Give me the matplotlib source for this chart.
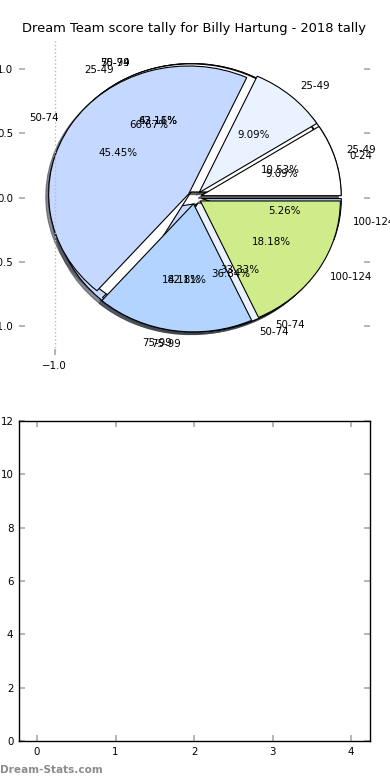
import numpy as np
import matplotlib
matplotlib.use("Agg")
import matplotlib.pyplot as plt

# score ranges and game counts, one pie per set (all drawn on the same axes)
labels_b = ['25-49', '50-74', '75-99', '100-124']
counts_b = [2, 8, 8, 1]
labels_d = ['75-99', '50-74']
counts_d = [12, 7]
labels_c = ['25-49', '50-74']
counts_c = [2, 1]
labels_a = ['0-24', '25-49', '50-74', '75-99', '100-124']
counts_a = [1, 1, 5, 2, 2]

slice_colors = ['#ffffff', '#eaf2ff', '#c5d8ff', '#b3d4ff', '#d0eb8a']
bar_ticks = [0, 1, 2, 3, 4]

plt.rcParams['font.family'] = ['DejaVu Sans']
fs = 7.4
tick_grey = '#b0b0b0'

fig = plt.figure(figsize=(3.9, 7.8), dpi=100)
ax1 = fig.add_axes([19 / 390, 1 - 355 / 780, 351 / 390, 315 / 780])
ax2 = fig.add_axes([19 / 390, 39 / 780, 351 / 390, 320 / 780])

for labels, counts in [(labels_b, counts_b), (labels_d, counts_d),
                       (labels_c, counts_c), (labels_a, counts_a)]:
    ax1.pie(counts, labels=labels, colors=slice_colors[:len(counts)],
            explode=[0.05] * len(counts), autopct='%1.2f%%',
            shadow={'ox': -0.015, 'oy': -0.015, 'alpha': 0.6},
            wedgeprops={'edgecolor': 'black', 'linewidth': 0.8},
            textprops={'fontsize': fs})

ax1.set_aspect('auto')
ax1.set_frame_on(False)
ax1.set_xlim(-1.254, 1.254)
ax1.set_ylim(-1.23, 1.23)
ax1.set_yticks([-1.0, -0.5, 0.0, 0.5, 1.0])
ax1.set_xticks([-1.0])
ax1.set_xticklabels(['\u22121.0'])
ax1.xaxis.grid(True, linestyle=':', color='#bbbbbb', linewidth=1)
ax1.tick_params(axis='both', direction='in', length=4, width=1.3, color=tick_grey,
                labelsize=fs, right=True, top=False, pad=4)
ax1.set_title('Dream Team score tally for Billy Hartung - 2018 tally', fontsize=9.4, pad=6)

# bar panel (no bars shown)
ax2.set_xlim(-0.23, 4.24)
ax2.set_ylim(0, 12)
ax2.set_xticks(bar_ticks)
ax2.set_yticks(np.arange(0, 13, 2))
for s in ax2.spines.values():
    s.set_linewidth(1.0)
ax2.tick_params(axis='both', direction='in', length=4, width=1.3, color=tick_grey,
                labelsize=fs, right=True, top=True, pad=4)

fig.text(0.0, 1 - 770 / 780, 'Dream-Stats.com', fontsize=7.6, color='#8c8c8c',
         fontweight='bold', ha='left', va='center')

fig.savefig('out.png', dpi=100)
